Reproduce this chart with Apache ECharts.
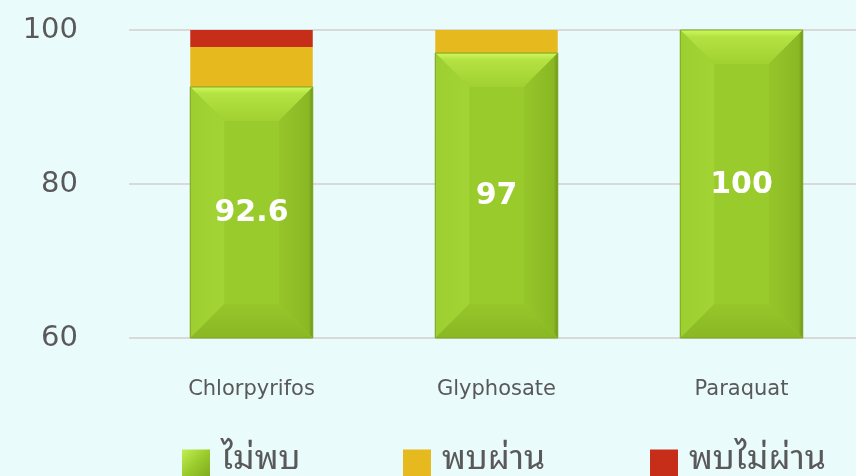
<!DOCTYPE html>
<html style="height: 100%">
   <head>
       <meta charset="utf-8">
   </head>
   <body style="height: 100%; margin: 0; background: #eafbfb; overflow: hidden">
       <div id="container" style="width: 864px; height: 476px"></div>
       <script type="text/javascript" src="https://cdn.jsdelivr.net/npm/echarts@6/dist/echarts.min.js"></script>
       <script type="text/javascript">
        var categories = ['Chlorpyrifos', 'Glyphosate', 'Paraquat'];
        var notFound = [92.6, 97, 100];
        var foundPass = [5.2, 3, 0];
        var foundFail = [2.2, 0, 0];
        var yTicks = [60, 80, 100];

        var dom = document.getElementById("container");
        var myChart = echarts.init(dom);

        function grad(x2, y2, stops) {
            return new echarts.graphic.LinearGradient(0, 0, x2, y2, stops.map(function (s) {
                return { offset: s[0], color: s[1] };
            }));
        }

        var greenIcon = grad(1, 1, [[0, '#c2ef55'], [0.5, '#9acb2c'], [1, '#7ea91f']]);

        // bevelled green block drawn over the plain bar
        function renderBevel(params, api) {
            var idx = api.value(0);
            var top = api.coord([idx, api.value(1)]);
            var bottom = api.coord([idx, yTicks[0]]);
            var w = api.size([1, 0])[0] * 0.5;
            var x0 = top[0] - w / 2, x1 = top[0] + w / 2;
            var y0 = top[1], y1 = bottom[1];
            var b = 34;
            return {
                type: 'group',
                children: [
                    { type: 'rect', shape: { x: x0, y: y0, width: w, height: y1 - y0 },
                      style: { fill: '#9acb2c' } },
                    { type: 'polygon', shape: { points: [[x0, y0], [x1, y0], [x1 - b, y0 + b], [x0 + b, y0 + b]] },
                      style: { fill: grad(0, 1, [[0, '#ccf85e'], [0.2, '#b4e242'], [1, '#a0d031']]) } },
                    { type: 'polygon', shape: { points: [[x0, y0], [x0 + b, y0 + b], [x0 + b, y1 - b], [x0, y1]] },
                      style: { fill: grad(1, 0, [[0, '#9dcf31'], [1, '#a2d435']]) } },
                    { type: 'polygon', shape: { points: [[x1, y0], [x1, y1], [x1 - b, y1 - b], [x1 - b, y0 + b]] },
                      style: { fill: grad(1, 0, [[0, '#95c52a'], [0.88, '#8ab824'], [1, '#6e961b']]) } },
                    { type: 'polygon', shape: { points: [[x0, y1], [x0 + b, y1 - b], [x1 - b, y1 - b], [x1, y1]] },
                      style: { fill: grad(0, 1, [[0, '#96c62a'], [1, '#8ab724']]) } },
                    { type: 'rect', shape: { x: x0, y: y0, width: w, height: y1 - y0 },
                      style: { fill: 'none', stroke: '#7ca623', lineWidth: 1 } },
                    { type: 'text', style: {
                        x: top[0], y: (y0 + y1) / 2 + 1, text: String(api.value(1)),
                        align: 'center', verticalAlign: 'middle',
                        fill: '#ffffff', font: 'bold 30px "DejaVu Sans", sans-serif'
                    } }
                ]
            };
        }

        function legendAt(left, name) {
            return {
                left: left,
                top: 442,
                padding: 0,
                itemWidth: 28,
                itemHeight: 28,
                itemGap: 0,
                icon: 'rect',
                data: [name],
                selectedMode: false,
                formatter: '{t|{name}}',
                textStyle: {
                    color: '#595959',
                    fontSize: 34,
                    padding: [0, 0, 0, 6],
                    rich: {
                        t: {
                            color: '#595959',
                            fontSize: 34,
                            fontFamily: 'Noto Sans Thai Looped, Noto Sans Thai, Noto Sans, sans-serif',
                            padding: [0, 0, 9, 0]
                        }
                    }
                }
            };
        }

        var option = {
            backgroundColor: '#eafbfb',
            animation: false,
            grid: { left: 129, top: 30, right: 0, height: 308, containLabel: false },
            legend: [
                legendAt(182, 'ไม่พบ'),
                legendAt(403, 'พบผ่าน'),
                legendAt(650, 'พบไม่ผ่าน')
            ],
            xAxis: {
                type: 'category',
                data: categories,
                axisLine: { show: false },
                axisTick: { show: false },
                axisLabel: {
                    margin: 41,
                    color: '#595959',
                    fontSize: 21,
                    fontFamily: 'DejaVu Sans, sans-serif'
                }
            },
            yAxis: {
                type: 'value',
                min: yTicks[0],
                max: yTicks[yTicks.length - 1],
                interval: 20,
                axisLine: { show: false },
                axisTick: { show: false },
                splitLine: { lineStyle: { color: '#d9d9d9', width: 2 } },
                axisLabel: {
                    margin: 51,
                    color: '#595959',
                    fontSize: 29,
                    fontFamily: 'DejaVu Sans, sans-serif'
                }
            },
            series: [
                {
                    name: 'ไม่พบ',
                    type: 'bar',
                    stack: 'total',
                    barWidth: '50%',
                    data: notFound,
                    itemStyle: { color: greenIcon }
                },
                {
                    name: 'พบผ่าน',
                    type: 'bar',
                    stack: 'total',
                    data: foundPass,
                    itemStyle: { color: '#e6b91e' }
                },
                {
                    name: 'พบไม่ผ่าน',
                    type: 'bar',
                    stack: 'total',
                    data: foundFail,
                    itemStyle: { color: '#c72e1a' }
                },
                {
                    name: 'bevel',
                    type: 'custom',
                    z: 3,
                    renderItem: renderBevel,
                    data: notFound.map(function (v, i) { return [i, v]; })
                }
            ]
        };

        myChart.setOption(option);
       </script>
   </body>
</html>
